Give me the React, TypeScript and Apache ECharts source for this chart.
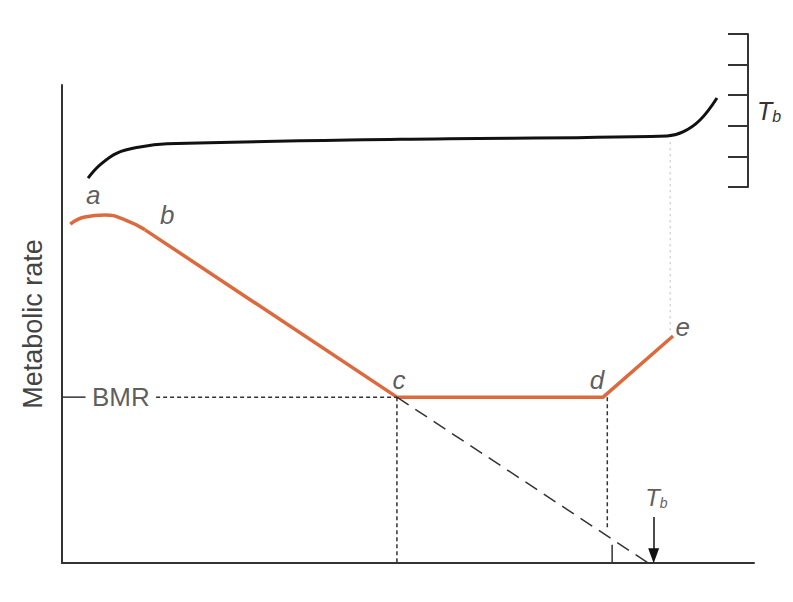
import React, { useEffect, useRef } from "react";
import * as echarts from "echarts";

// ---- data (abstract units: x 0..100 along temperature, y 0..100 metabolic rate) ----
const bmr = 34.7;
const orangeCurve: [number, number][] = [
  [1.2, 70.9], [3.3, 72.4], [6.2, 72.8], [9.1, 71.8], [12.0, 69.7],
];
const orangeStraight: [number, number][] = [
  [12.0, 69.7], [48.4, bmr], [78.2, bmr], [88.3, 47.5],
];
const cX = 48.4;
const dLineX = 78.8;
const dLineBottom = 6.9;
const dTickX = 79.5;
const dTickTop = 3.8;
const tbZeroX = 84.7;
const arrowX = 85.5;
const arrowTop = 9.6;
const arrowHeadCenter = 1.5;
const bmrTickEnd = 3.4;
const bmrDashStart = 13.6;
const greyDotX = 87.9;
const greyDotY = [48.7, 88.5];

// body temperature curve (T_b scale units 0..5)
const tbCurve: [number, number][] = [
  [3.76, 0.29], [5.49, 0.72], [7.95, 1.11], [11.27, 1.31], [15.17, 1.41],
  [48.84, 1.56], [87.43, 1.67], [89.74, 1.8], [92.2, 2.19], [94.65, 2.91],
];
const tbTicks = { min: 0, max: 5, interval: 1 };

const pointLabels = [
  { name: "a", x: 4.5, y: 76.9 },
  { name: "b", x: 15.2, y: 72.8 },
  { name: "c", x: 48.7, y: 38.2 },
  { name: "d", x: 77.3, y: 38.2 },
  { name: "e", x: 89.7, y: 49.4 },
];

const DARK = "#333333";
const ORANGE = "#dc6a3c";
const FONT = "Liberation Sans, Arial, sans-serif";

export default function App() {
  const ref = useRef<HTMLDivElement>(null);
  useEffect(() => {
    if (!ref.current) return;
    const chart = echarts.init(ref.current, null, { renderer: "svg" });
    const gridLeft = 62, gridRight0 = 39, gridRight1 = 45, W = 793;
    const w0 = W - gridLeft - gridRight0;
    const w1 = W - gridLeft - gridRight1;
    const xMax1 = (100 * w1) / w0;
    const seg = (pts: [number, number][], style: any, extra: any = {}) => ({
      type: "line",
      xAxisIndex: 0,
      yAxisIndex: 0,
      data: pts,
      symbol: "none",
      silent: true,
      clip: false,
      lineStyle: style,
      ...extra,
    });
    chart.setOption({
      animation: false,
      textStyle: { fontFamily: FONT },
      grid: [
        { left: gridLeft, right: gridRight0, top: 85, bottom: 39 },
        { left: gridLeft, right: gridRight1, top: 34, bottom: 415 },
      ],
      xAxis: [
        {
          gridIndex: 0, type: "value", min: 0, max: 100,
          axisLine: { show: true, lineStyle: { color: DARK, width: 2 } },
          axisTick: { show: false }, axisLabel: { show: false }, splitLine: { show: false },
        },
        {
          gridIndex: 1, type: "value", min: 0, max: xMax1, show: false,
        },
      ],
      yAxis: [
        {
          gridIndex: 0, type: "value", min: 0, max: 100,
          axisLine: { show: true, lineStyle: { color: DARK, width: 2 } },
          axisTick: { show: false }, axisLabel: { show: false }, splitLine: { show: false },
          name: "Metabolic rate", nameLocation: "middle", nameGap: 16,
          nameTextStyle: { fontSize: 27, color: "#444", fontFamily: FONT },
        },
        {
          gridIndex: 1, type: "value", position: "right",
          min: tbTicks.min, max: tbTicks.max, interval: tbTicks.interval,
          axisLine: { show: true, onZero: false, lineStyle: { color: DARK, width: 2 } },
          axisTick: { show: true, inside: true, length: 20, lineStyle: { color: DARK, width: 2 } },
          axisLabel: { show: false }, splitLine: { show: false },
          name: "{t|T}{s|b}", nameLocation: "middle", nameGap: 9, nameRotate: 0,
          nameTextStyle: {
            align: "left",
            rich: {
              t: { fontSize: 25, fontStyle: "italic", color: DARK, fontFamily: FONT },
              s: { fontSize: 16, fontStyle: "italic", color: DARK, fontFamily: FONT, padding: [12, 0, 0, 0] },
            },
          },
        },
      ],
      series: [
        seg(orangeCurve, { color: ORANGE, width: 3.5 }, { smooth: 0.5 }),
        seg(orangeStraight, { color: ORANGE, width: 3.5, join: "round" }),
        seg([[0, bmr], [bmrTickEnd, bmr]], { color: DARK, width: 1.5 }),
        seg([[bmrDashStart, bmr], [cX, bmr]], { color: DARK, width: 1.5, type: [4, 3] }),
        seg([[cX, bmr], [cX, 0]], { color: DARK, width: 1.5, type: [4, 3] }),
        seg([[dLineX, bmr], [dLineX, dLineBottom]], { color: DARK, width: 1.5, type: [4, 3] }),
        seg([[dTickX, dTickTop], [dTickX, 0]], { color: DARK, width: 1.5 }),
        seg([[greyDotX, greyDotY[0]], [greyDotX, greyDotY[1]]], { color: "#cfcfcf", width: 1.5, type: [2, 4] }),
        seg([[cX, bmr], [tbZeroX, 0]], { color: DARK, width: 1.5, type: [14, 8] }, {
          markLine: {
            silent: true,
            symbol: ["none", "triangle"],
            symbolSize: [11, 15],
            label: { show: false },
            lineStyle: { color: "#111", width: 1.5, type: "solid" },
            data: [[{ coord: [arrowX, arrowTop] }, { coord: [arrowX, arrowHeadCenter] }]],
          },
        }),
        {
          type: "line",
          xAxisIndex: 1,
          yAxisIndex: 1,
          data: tbCurve,
          smooth: 0.4,
          symbol: "none",
          silent: true,
          clip: false,
          lineStyle: { color: "#111", width: 3 },
        },
        {
          type: "scatter",
          xAxisIndex: 0,
          yAxisIndex: 0,
          symbolSize: 0,
          silent: true,
          clip: false,
          data: pointLabels.map((p) => ({ name: p.name, value: [p.x, p.y] })),
          label: {
            show: true, position: "inside", formatter: "{b}",
            fontSize: 26, fontStyle: "italic", color: DARK, fontFamily: FONT,
          },
        },
        {
          type: "scatter",
          xAxisIndex: 0,
          yAxisIndex: 0,
          symbolSize: 0,
          silent: true,
          clip: false,
          data: [
            { name: "BMR", value: [(bmrTickEnd + bmrDashStart) / 2, bmr] },
          ],
          label: {
            show: true, position: "inside", formatter: "{b}",
            fontSize: 26, color: DARK, fontFamily: FONT,
          },
        },
        {
          type: "scatter",
          xAxisIndex: 0,
          yAxisIndex: 0,
          symbolSize: 0,
          silent: true,
          clip: false,
          data: [{ name: "Tb", value: [arrowX + 0.4, arrowTop + 4.0] }],
          label: {
            show: true, position: "inside", formatter: "{t|T}{s|b}",
            rich: {
              t: { fontSize: 24, fontStyle: "italic", color: DARK, fontFamily: FONT },
              s: { fontSize: 14, fontStyle: "italic", color: DARK, fontFamily: FONT, padding: [11, 0, 0, 0] },
            },
          },
        },
      ],
    });
    return () => chart.dispose();
  }, []);
  return (
    <div
      ref={ref}
      style={{ position: "fixed", left: 0, top: 0, width: 793, height: 602, background: "#fff" }}
    />
  );
}
